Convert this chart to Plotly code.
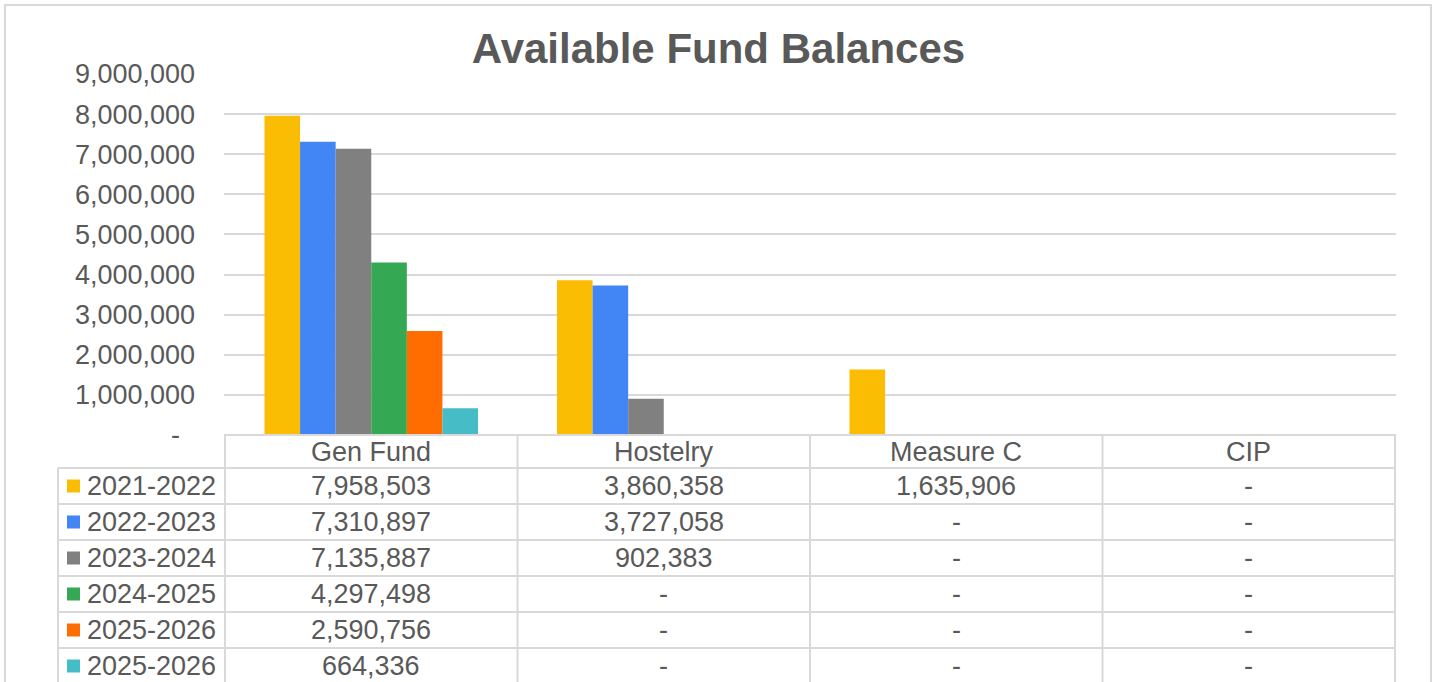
import plotly.graph_objects as go

W, H = 1437, 682

categories = ["Gen Fund", "Hostelry", "Measure C", "CIP"]
series_names = ["2021-2022", "2022-2023", "2023-2024", "2024-2025", "2025-2026", "2025-2026"]
values_2021 = [7958503, 3860358, 1635906, 0]
values_2022 = [7310897, 3727058, 0, 0]
values_2023 = [7135887, 902383, 0, 0]
values_2024 = [4297498, 0, 0, 0]
values_2025a = [2590756, 0, 0, 0]
values_2025b = [664336, 0, 0, 0]
series_values = [values_2021, values_2022, values_2023, values_2024, values_2025a, values_2025b]
colors = ["#FBBC04", "#4285F4", "#808080", "#34A853", "#FF6D01", "#46BDC6"]

tick_vals = [i * 1000000 for i in range(10)]
tick_text = ["-\u00a0\u00a0"] + [f"{v:,}" for v in tick_vals[1:]]

TEXT = "#595959"
GRID = "#d9d9d9"
FONT = "Liberation Sans, Arial, sans-serif"
FS = 27

def px(x):
    return x / W

def py(y):
    return 1 - y / H

# layout geometry (pixels)
PLOT_L, PLOT_R, PLOT_T, PLOT_B = 224, 1396, 74, 435
TABLE_L = 58
HEADER_B = 468
ROW_H = 36

fig = go.Figure()
for name, vals, col in zip(series_names, series_values, colors):
    fig.add_trace(go.Bar(x=categories, y=vals, name=name, marker=dict(color=col, line=dict(width=0)),
                         showlegend=False))

shapes = []
annotations = []

# outer chart border
shapes.append(dict(type="rect", xref="paper", yref="paper", x0=px(5), x1=px(1431), y0=py(700), y1=py(5),
                   line=dict(color=GRID, width=2), layer="below"))

# table horizontal lines
shapes.append(dict(type="line", xref="paper", yref="paper", x0=px(PLOT_L), x1=px(PLOT_R),
                   y0=py(PLOT_B), y1=py(PLOT_B), line=dict(color=GRID, width=2)))
for i in range(len(series_names) + 1):
    yy = HEADER_B + i * ROW_H
    shapes.append(dict(type="line", xref="paper", yref="paper", x0=px(TABLE_L), x1=px(PLOT_R),
                       y0=py(yy), y1=py(yy), line=dict(color=GRID, width=2)))
# left edge of legend column
shapes.append(dict(type="line", xref="paper", yref="paper", x0=px(TABLE_L), x1=px(TABLE_L),
                   y0=py(HEADER_B), y1=py(H + 20), line=dict(color=GRID, width=2)))
# category boundaries via the x axis
for k in range(len(categories) + 1):
    xb = k - 0.5
    shapes.append(dict(type="line", xref="x", yref="paper", x0=xb, x1=xb,
                       y0=py(PLOT_B), y1=py(H + 20), line=dict(color=GRID, width=2)))

# header labels
for c in categories:
    annotations.append(dict(x=c, xref="x", y=py((PLOT_B + HEADER_B) / 2), yref="paper", text=c,
                            showarrow=False, font=dict(family=FONT, size=FS, color=TEXT),
                            xanchor="center", yanchor="middle"))

# rows
for i, (name, vals, col) in enumerate(zip(series_names, series_values, colors)):
    yc = HEADER_B + i * ROW_H + ROW_H / 2
    shapes.append(dict(type="rect", xref="paper", yref="paper", x0=px(67), x1=px(80),
                       y0=py(yc + 6.5), y1=py(yc - 6.5), fillcolor=col, line=dict(width=0)))
    annotations.append(dict(x=px(85), xref="paper", y=py(yc), yref="paper", text=name,
                            showarrow=False, font=dict(family=FONT, size=FS, color=TEXT),
                            xanchor="left", yanchor="middle"))
    for c, v in zip(categories, vals):
        annotations.append(dict(x=c, xref="x", y=py(yc), yref="paper",
                                text=(f"{v:,}" if v else "-"),
                                showarrow=False, font=dict(family=FONT, size=FS, color=TEXT),
                                xanchor="center", yanchor="middle"))

fig.update_layout(
    width=W, height=H,
    margin=dict(l=0, r=0, t=0, b=0, autoexpand=False),
    paper_bgcolor="white", plot_bgcolor="white",
    barmode="group", bargap=0.27, bargroupgap=0,
    title=dict(text="Available Fund Balances", x=0.5, xanchor="center", y=py(48), yanchor="middle",
               font=dict(family=FONT, size=42, color=TEXT, weight="bold")),
    xaxis=dict(domain=[px(PLOT_L), px(PLOT_R)], showticklabels=False, showgrid=False,
               showline=False, zeroline=False, ticks="", automargin=False),
    yaxis=dict(domain=[py(PLOT_B), py(PLOT_T)], range=[0, 9000000], tickvals=tick_vals, ticktext=tick_text,
               showgrid=True, gridcolor=GRID, gridwidth=2, zeroline=False, showline=False, ticks="",
               automargin=False,
               ticklabelstandoff=28, tickfont=dict(family=FONT, size=FS, color=TEXT)),
    shapes=shapes, annotations=annotations,
)

fig.write_html("out.html", config={"displayModeBar": False},
               post_script="document.body.style.margin='0';")
